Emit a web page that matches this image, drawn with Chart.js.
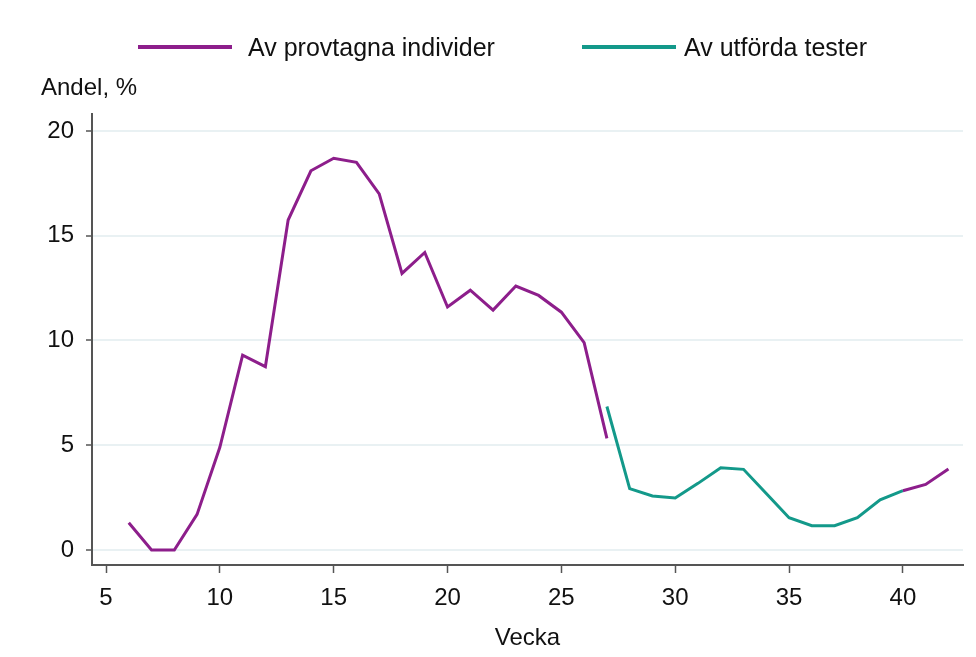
<!DOCTYPE html>
<html>
<head>
<meta charset="utf-8">
<script src="https://cdn.jsdelivr.net/npm/chart.js@4.4.1/dist/chart.umd.min.js"></script>
<style>
  html, body { margin: 0; padding: 0; background: #ffffff; }
  #wrap { width: 976px; height: 657px; }
</style>
</head>
<body>
<div id="wrap"><canvas id="c" width="976" height="657"></canvas></div>
<script>
// ---- Data ----
const weeks = [6,7,8,9,10,11,12,13,14,15,16,17,18,19,20,21,22,23,24,25,26,27,28,29,30,31,32,33,34,35,36,37,38,39,40,41,42];
const provtagnaIndivider = [1.3,0,0,1.7,4.9,9.3,8.75,15.75,18.1,18.7,18.5,17.0,13.2,14.2,11.6,12.4,11.45,12.6,12.15,11.35,9.9,5.33,
  null,null,null,null,null,null,null,null,null,null,null,null,
  2.83,3.13,3.87];
const testWeeks = [27,28,29,30,31,32,33,34,35,36,37,38,39,40];
const utfordaTester = [6.85,2.93,2.58,2.48,3.18,3.93,3.85,2.7,1.54,1.16,1.16,1.54,2.39,2.83];
const xTicks = [5,10,15,20,25,30,35,40];
const yTicks = [0,5,10,15,20];
const seriesNames = ['Av provtagna individer', 'Av utförda tester'];
const yTitle = 'Andel, %';
const xTitle = 'Vecka';

const PURPLE = '#8d1e8b';
const TEAL = '#13998a';
const FONT = '"Liberation Sans", Arial, sans-serif';

const decor = {
  id: 'decor',
  afterDraw(chart) {
    const ctx = chart.ctx;
    const area = chart.chartArea;
    ctx.save();
    // legend
    ctx.lineWidth = 4;
    ctx.lineCap = 'butt';
    ctx.strokeStyle = PURPLE;
    ctx.beginPath(); ctx.moveTo(138, 47); ctx.lineTo(232, 47); ctx.stroke();
    ctx.strokeStyle = TEAL;
    ctx.beginPath(); ctx.moveTo(582, 47); ctx.lineTo(676, 47); ctx.stroke();
    ctx.fillStyle = '#111111';
    ctx.font = '25px ' + FONT;
    ctx.textBaseline = 'middle';
    ctx.textAlign = 'left';
    ctx.fillText(seriesNames[0], 248, 49);
    ctx.fillText(seriesNames[1], 684, 49);
    // y title
    ctx.font = '24px ' + FONT;
    ctx.fillText(yTitle, 41, 88);
    // x title
    ctx.textAlign = 'center';
    ctx.fillText(xTitle, (area.left + area.right) / 2, 638);
    ctx.restore();
  }
};

new Chart(document.getElementById('c'), {
  type: 'line',
  data: {
    datasets: [
      {
        label: seriesNames[0],
        data: weeks.map((w, i) => ({ x: w, y: provtagnaIndivider[i] })),
        borderColor: PURPLE,
        borderWidth: 3,
        pointRadius: 0,
        spanGaps: false,
        tension: 0,
        fill: false
      },
      {
        label: seriesNames[1],
        data: testWeeks.map((w, i) => ({ x: w, y: utfordaTester[i] })),
        borderColor: TEAL,
        borderWidth: 3,
        pointRadius: 0,
        tension: 0,
        fill: false
      }
    ]
  },
  options: {
    responsive: false,
    animation: false,
    devicePixelRatio: 1,
    layout: { padding: { top: 114, right: 13, left: 0, bottom: 0 } },
    plugins: { legend: { display: false }, tooltip: { enabled: false }, title: { display: false } },
    scales: {
      x: {
        type: 'linear',
        min: 4.385,
        max: 42.64,
        afterBuildTicks: s => { s.ticks = xTicks.map(v => ({ value: v })); },
        afterFit: s => { s.height = 92; },
        grid: { drawOnChartArea: false, tickLength: 8, tickColor: '#555555', tickWidth: 1.5 },
        border: { color: '#555555', width: 2 },
        ticks: { color: '#111111', font: { family: FONT, size: 24 }, padding: 11, maxRotation: 0, autoSkip: false }
      },
      y: {
        type: 'linear',
        min: -0.716,
        max: 20.81,
        afterBuildTicks: s => { s.ticks = yTicks.map(v => ({ value: v })); },
        afterFit: s => { s.width = 92; },
        grid: { color: '#e9f1f3', lineWidth: 2, tickLength: 6, tickColor: '#555555', tickWidth: 1.5 },
        border: { color: '#555555', width: 2 },
        ticks: { color: '#111111', font: { family: FONT, size: 24 }, padding: 12, autoSkip: false }
      }
    }
  },
  plugins: [decor]
});
</script>
</body>
</html>
